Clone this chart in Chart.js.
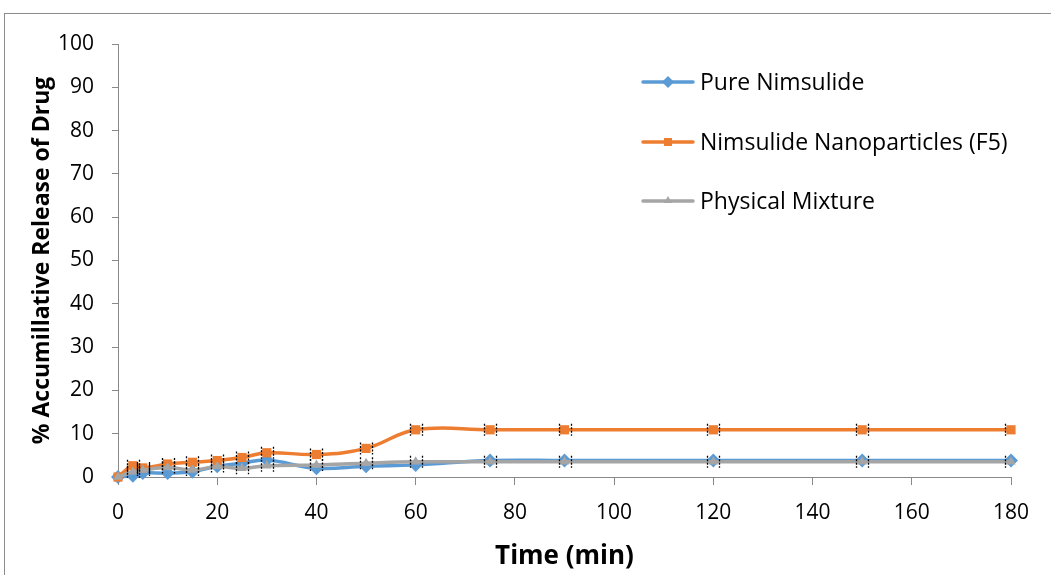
<!DOCTYPE html>
<html>
<head>
<meta charset="utf-8">
<script src="https://cdn.jsdelivr.net/npm/chart.js@4.4.1/dist/chart.umd.min.js"></script>
<style>
  html, body { margin: 0; padding: 0; background: #fff; }
  #wrap { position: absolute; left: 0; top: 0; width: 1051px; height: 575px; }
</style>
</head>
<body>
<div id="wrap"><canvas id="c" width="1051" height="575"></canvas></div>
<script>
const times = [0, 3, 5, 10, 15, 20, 25, 30, 40, 50, 60, 75, 90, 120, 150, 180];
const pureNimsulide = [0, 0.3, 0.9, 0.9, 1.2, 2.5, 3.2, 3.9, 2.0, 2.5, 2.8, 3.8, 3.8, 3.8, 3.8, 3.8];
const nanoparticlesF5 = [0, 2.6, 2.1, 3.0, 3.4, 3.8, 4.5, 5.6, 5.2, 6.6, 10.9, 10.9, 10.9, 10.9, 10.9, 10.9];
const physicalMixture = [0, 1.2, 1.6, 2.2, 1.6, 2.4, 2.0, 2.6, 2.8, 3.2, 3.5, 3.5, 3.5, 3.5, 3.5, 3.5];
const seriesNames = ['Pure Nimsulide', 'Nimsulide Nanoparticles (F5)', 'Physical Mixture'];
const xTicks = [0, 20, 40, 60, 80, 100, 120, 140, 160, 180];
const yTicks = [0, 10, 20, 30, 40, 50, 60, 70, 80, 90, 100];

const FONT = '"Open Sans", Lato, sans-serif';
const AXIS = '#898989';

function pts(vals) { return times.map((t, i) => ({ x: t, y: vals[i] })); }

const frame = {
  id: 'frame',
  beforeDraw(chart) {
    const ctx = chart.ctx;
    ctx.save();
    ctx.strokeStyle = '#8c8c8c';
    ctx.lineWidth = 1;
    ctx.strokeRect(4.5, 13.5, 1200, 700);
    ctx.restore();
  }
};

const caps = {
  id: 'caps',
  afterDatasetsDraw(chart) {
    const ctx = chart.ctx;
    ctx.save();
    ctx.strokeStyle = '#000';
    ctx.lineWidth = 1.3;
    ctx.setLineDash([2, 1.5]);
    [1, 2].forEach(di => {
      const meta = chart.getDatasetMeta(di);
      meta.data.forEach((p, j) => {
        if (j === 0) return;
        const xs = j === meta.data.length - 1 ? [p.x - 6] : [p.x - 6, p.x + 6];
        xs.forEach(x => {
          ctx.beginPath();
          ctx.moveTo(Math.round(x) + 0.5, p.y - 6);
          ctx.lineTo(Math.round(x) + 0.5, p.y + 6);
          ctx.stroke();
        });
      });
    });
    ctx.restore();
  }
};

const legendPlugin = {
  id: 'customLegend',
  afterDraw(chart) {
    const ctx = chart.ctx;
    const rows = [82, 142, 201];
    ctx.save();
    chart.data.datasets.forEach((ds, i) => {
      const y = rows[i];
      ctx.strokeStyle = ds.borderColor;
      ctx.lineWidth = 3.5;
      ctx.lineCap = 'round';
      ctx.beginPath();
      ctx.moveTo(643, y);
      ctx.lineTo(693, y);
      ctx.stroke();
      ctx.fillStyle = ds.borderColor;
      const cx = 668;
      ctx.beginPath();
      if (ds.pointStyle === 'rectRot') {
        ctx.moveTo(cx, y - 6); ctx.lineTo(cx + 6, y); ctx.lineTo(cx, y + 6); ctx.lineTo(cx - 6, y);
      } else if (ds.pointStyle === 'rect') {
        ctx.rect(cx - 4, y - 4, 8, 8);
      } else {
        ctx.moveTo(cx, y - 5); ctx.lineTo(cx + 4, y + 2); ctx.lineTo(cx - 4, y + 2);
      }
      ctx.closePath();
      ctx.fill();
      ctx.fillStyle = '#000';
      ctx.font = '23px ' + FONT;
      ctx.textBaseline = 'middle';
      ctx.textAlign = 'left';
      ctx.fillText(seriesNames[i], 700, y + 1);
    });
    ctx.restore();
  }
};

const common = { borderWidth: 3.5, tension: 0.4, clip: false, pointBorderWidth: 0, fill: false };

new Chart(document.getElementById('c'), {
  type: 'line',
  data: {
    datasets: [
      Object.assign({ label: seriesNames[0], data: pts(pureNimsulide), borderColor: '#5B9BD5', backgroundColor: '#5B9BD5',
        pointBackgroundColor: '#5B9BD5', pointStyle: 'rectRot', pointRadius: 7, order: 3 }, common),
      Object.assign({ label: seriesNames[1], data: pts(nanoparticlesF5), borderColor: '#ED7D31', backgroundColor: '#ED7D31',
        pointBackgroundColor: '#ED7D31', pointStyle: 'rect', pointRadius: 6.5, order: 2 }, common),
      Object.assign({ label: seriesNames[2], data: pts(physicalMixture), borderColor: '#A5A5A5', backgroundColor: '#A5A5A5',
        pointBackgroundColor: '#A5A5A5', pointStyle: 'triangle', pointRadius: 5.5, order: 1 }, common)
    ]
  },
  options: {
    responsive: false,
    animation: false,
    events: [],
    layout: { padding: { left: 0, top: 44, right: 40, bottom: 0 } },
    plugins: { legend: { display: false }, tooltip: { enabled: false } },
    scales: {
      x: {
        type: 'linear', min: 0, max: 180,
        afterBuildTicks(s) { s.ticks = xTicks.map(v => ({ value: v })); },
        afterFit(s) { s.height = 98; },
        grid: { drawOnChartArea: false, drawTicks: true, tickLength: 8, color: AXIS, lineWidth: 1 },
        border: { color: AXIS, width: 1 },
        ticks: { color: '#000', font: { family: FONT, size: 21 }, padding: 15, maxRotation: 0 },
        title: { display: true, text: 'Time (min)', color: '#000', font: { family: FONT, size: 26, weight: 'bold' }, padding: { top: 0, bottom: 3 } }
      },
      y: {
        type: 'linear', min: 0, max: 100,
        afterBuildTicks(s) { s.ticks = yTicks.map(v => ({ value: v })); },
        afterFit(s) { s.width = 118; },
        grid: { drawOnChartArea: false, drawTicks: true, tickLength: 6, color: AXIS, lineWidth: 1 },
        border: { color: AXIS, width: 1 },
        ticks: { color: '#000', font: { family: FONT, size: 21 }, padding: 18 },
        title: { display: true, text: '% Accumillative Release of Drug', color: '#000', font: { family: FONT, size: 23, weight: 'bold' }, padding: { top: 29, bottom: 0 } }
      }
    }
  },
  plugins: [frame, caps, legendPlugin]
});
</script>
</body>
</html>
